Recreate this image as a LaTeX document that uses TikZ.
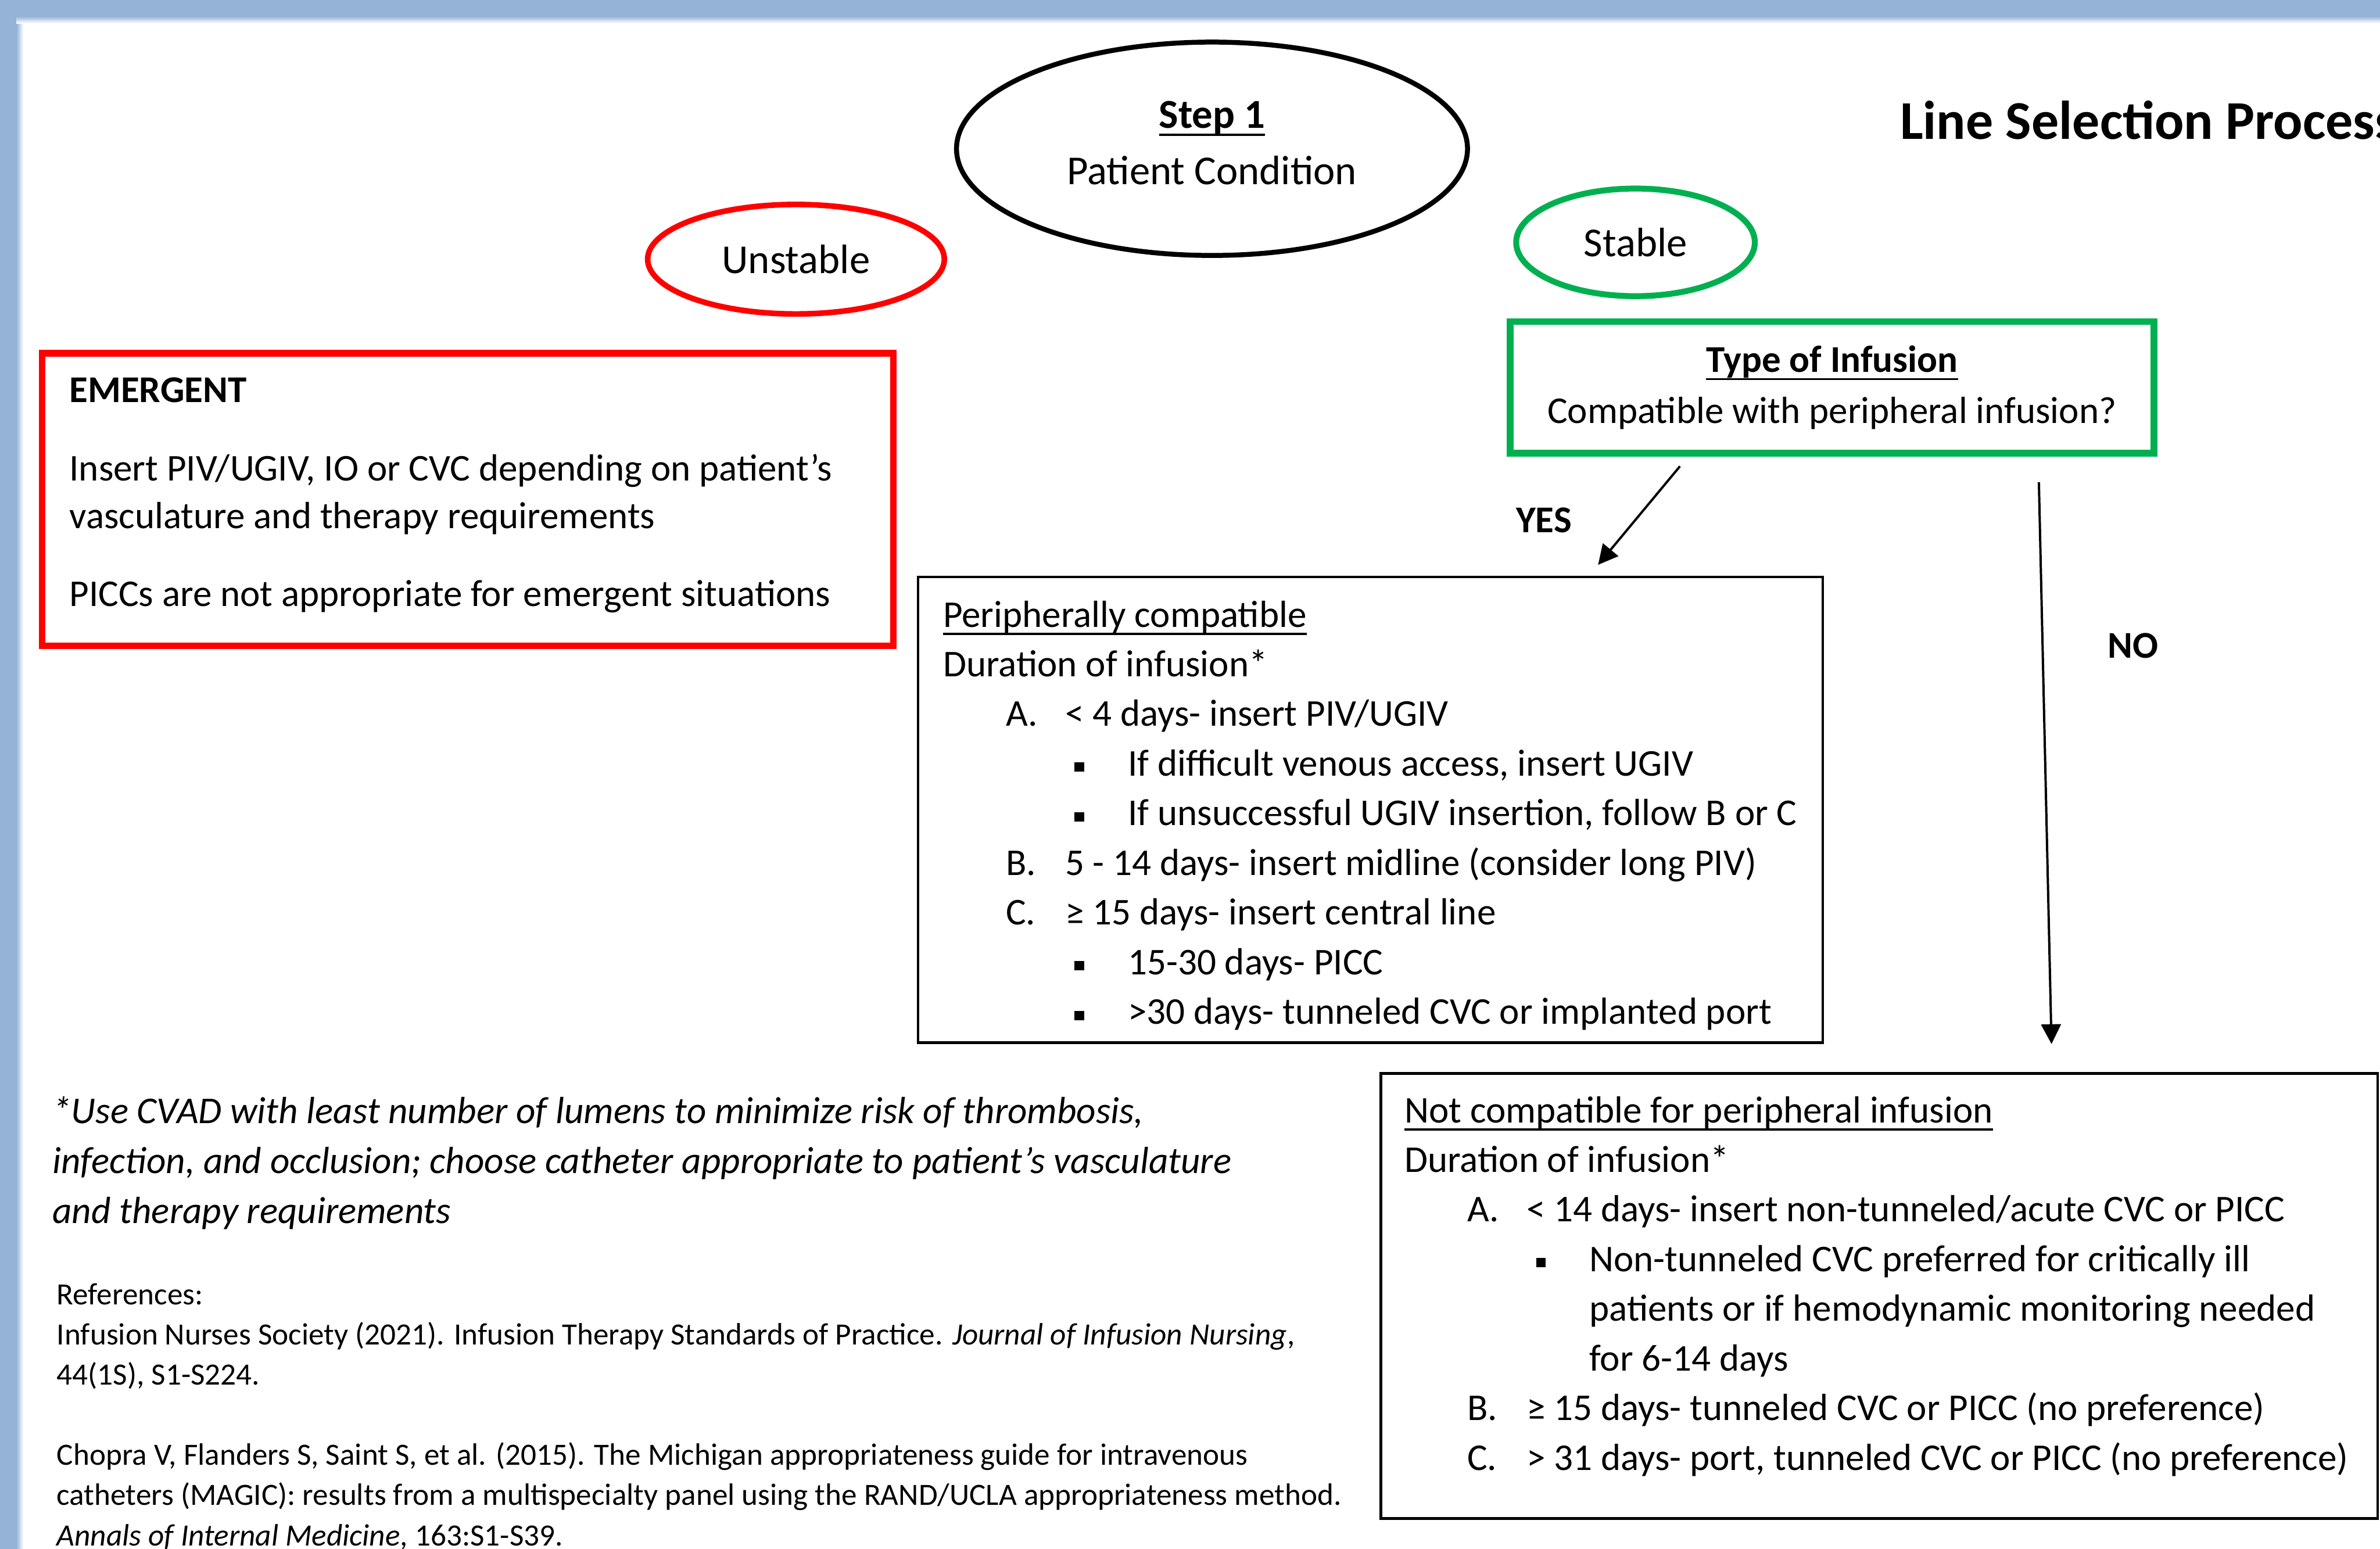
\documentclass[tikz,border=0pt]{standalone}
\usepackage{fontspec}
\setmainfont{Carlito}
\usetikzlibrary{arrows.meta, calc, shapes.geometric}
\definecolor{ored}{RGB}{255,0,0}
\definecolor{ogreen}{RGB}{0,176,80}
\definecolor{oblue}{RGB}{149,179,215}
\tikzset{%
    ell/.style={ellipse, draw, line width=1.5pt, inner sep=0pt, align=center, font=\fontsize{12.5}{15.2}\selectfont},
    bx/.style={rectangle, draw, line width=0.8pt, inner sep=0pt},
    bxc/.style={rectangle, draw, line width=2pt, inner sep=0pt},
    txt/.style={anchor=base west, inner sep=0pt, align=left, font=\fontsize{11.5}{15.1}\selectfont},
    lbl/.style={inner sep=0pt, font=\fontsize{11.5}{15.1}\selectfont\bfseries},
    arr/.style={line width=0.7pt, -{Triangle[length=6pt, width=6pt]}},
}
\newcommand{\ulin}[1]{\setbox0\hbox{#1}\rlap{\rule[-0.085cm]{\wd0}{0.6pt}}\box0}
\newcommand{\letitem}[2]{\hspace*{0.67cm}\makebox[0.635cm][l]{#1}#2}
\newcommand{\bulitem}[1]{\hspace*{1.405cm}\makebox[0.57cm][l]{\rule[0.045cm]{0.1cm}{0.1cm}}#1}
\newcommand{\contline}[1]{\hspace*{1.975cm}#1}

\begin{document}
\begin{tikzpicture}
    \useasboundingbox (0,0) rectangle (25.43,16.55);
    \clip (0,0) rectangle (25.43,16.55);
    \fill [white] (0,0) rectangle (25.43,16.55);
    \fill [oblue] (0,0) rectangle (0.175,16.55);
    \fill [oblue] (0,16.375) rectangle (25.43,16.55);
    \shade [left color=oblue, right color=white] (0.175,0) rectangle (0.25,16.375);
    \shade [top color=oblue, bottom color=white] (0.175,16.3) rectangle (25.43,16.375);

    \node [ell, minimum width=5.46cm, minimum height=2.28cm] (step) at (12.95,14.96) {\textbf{\ulin{Step 1}}\\[0.07cm] Patient Condition\rule[-0.13cm]{0pt}{0.13cm}};
    \node [ell, draw=ored, line width=1.7pt, minimum width=3.17cm, minimum height=1.17cm] (unst) at (8.505,13.78) {Unstable};
    \node [ell, draw=ogreen, line width=1.8pt, minimum width=2.55cm, minimum height=1.15cm] (stab) at (17.475,13.96) {Stable};
    \node [txt, font=\fontsize{16.6}{20}\selectfont\bfseries] (title) at (20.295,15.065) {Line Selection Process};

    \node [bxc, draw=ored, minimum width=9.095cm, minimum height=3.125cm] (embox) at (4.9975,11.2125) {};
    \node [txt, font=\fontsize{11.5}{14.4}\selectfont] (emtxt) at (0.735,10.07) {\textbf{EMERGENT}\\[0.33cm]
        Insert PIV/UGIV, IO or CVC depending on patient’s\\
        vasculature and therapy requirements\\[0.33cm]
        PICCs are not appropriate for emergent situations};

    \node [bxc, draw=ogreen, align=center, font=\fontsize{11.5}{15.6}\selectfont, minimum width=6.88cm, minimum height=1.405cm] (typebox) at (19.575,12.41) {\textbf{\ulin{Type of Infusion}}\\ Compatible with peripheral infusion?};

    \node [bx, minimum width=9.665cm, minimum height=4.975cm] (peribox) at (14.6425,7.8975) {};
    \node [txt] (peritxt) at (10.07,5.605) {\ulin{Peripherally compatible}\\
        Duration of infusion*\\
        \letitem{A.}{< 4 days- insert PIV/UGIV}\\
        \bulitem{If difficult venous access, insert UGIV}\\
        \bulitem{If unsuccessful UGIV insertion, follow B or C}\\
        \letitem{B.}{5 - 14 days- insert midline (consider long PIV)}\\
        \letitem{C.}{≥ 15 days- insert central line}\\
        \bulitem{15-30 days- PICC}\\
        \bulitem{>30 days- tunneled CVC or implanted port}};

    \node [bx, minimum width=10.65cm, minimum height=4.755cm] (notbox) at (20.08,2.7025) {};
    \node [txt] (nottxt) at (15.0,0.84) {\ulin{Not compatible for peripheral infusion}\\
        Duration of infusion*\\
        \letitem{A.}{< 14 days- insert non-tunneled/acute CVC or PICC}\\
        \bulitem{Non-tunneled CVC preferred for critically ill}\\
        \contline{patients or if hemodynamic monitoring needed}\\
        \contline{for 6-14 days}\\
        \letitem{B.}{≥ 15 days- tunneled CVC or PICC (no preference)}\\
        \letitem{C.}{> 31 days- port, tunneled CVC or PICC (no preference)}};

    \draw [arr] ([xshift=-1.625cm,yshift=-0.105cm]typebox.south) -- ([xshift=2.4325cm,yshift=0.115cm]peribox.north);
    \draw [arr] ([xshift=2.21cm,yshift=-0.275cm]typebox.south) -- ([xshift=1.84cm,yshift=0.3cm]notbox.north);
    \node [lbl] (yes) at (16.495,10.99) {YES};
    \node [lbl] (no) at (22.79,9.65) {NO};

    \node [txt, font=\fontsize{11.5}{15.2}\selectfont\itshape] (note) at (0.555,3.48) {*Use CVAD with least number of lumens to minimize risk of thrombosis,\\
        infection, and occlusion; choose catheter appropriate to patient’s vasculature\\
        and therapy requirements};
    \node [txt, font=\fontsize{9.4}{12.2}\selectfont] (refs) at (0.6,0.035) {References:\\
        Infusion Nurses Society (2021). Infusion Therapy Standards of Practice. \textit{Journal of Infusion Nursing},\\
        44(1S), S1-S224.\\[12.2pt]
        Chopra V, Flanders S, Saint S, et al. (2015). The Michigan appropriateness guide for intravenous\\
        catheters (MAGIC): results from a multispecialty panel using the RAND/UCLA appropriateness method.\\
        \textit{Annals of Internal Medicine}, 163:S1-S39.};
\end{tikzpicture}
\end{document}
